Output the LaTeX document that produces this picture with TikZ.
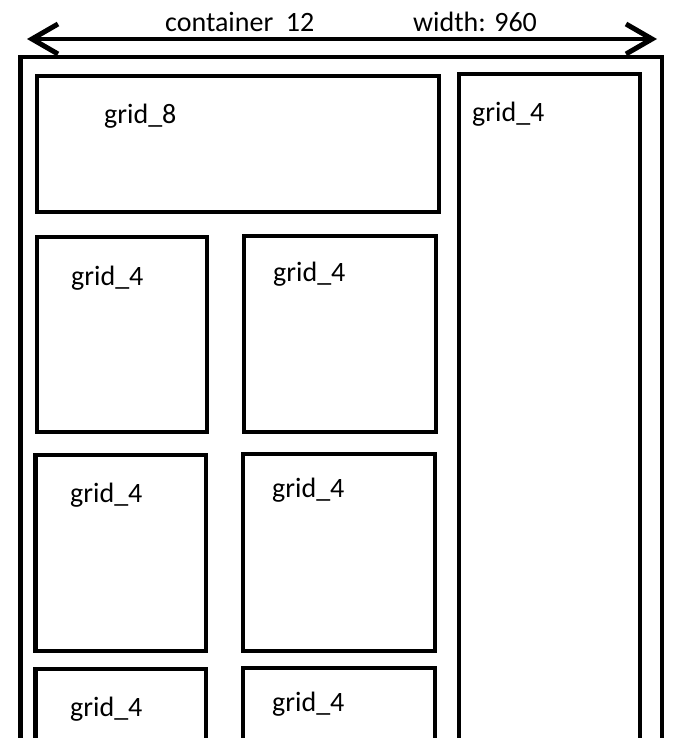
\documentclass[tikz,border=0pt]{standalone}
\usepackage{fontspec}
\setmainfont{Carlito}
\usetikzlibrary{arrows.meta}

\tikzset{
  box/.style={draw, line width=4.4pt, line join=miter},
  lbl/.style={anchor=base west, inner sep=0pt, font=\fontsize{28}{30}\selectfont},
  widtharrow/.style={line width=4.2pt, {Straight Barb[length=26pt,width=30pt,line width=5pt]}-{Straight Barb[length=26pt,width=30pt,line width=5pt]}}
}

\begin{document}
\begin{tikzpicture}[x=1pt,y=-1pt]
\useasboundingbox (0,0) rectangle (690,738);

% width arrow
\coordinate (wl) at (27,39);
\coordinate (wr) at (657,39);
\draw[widtharrow] (wl) -- (wr);
\node[lbl] (cname) at (165,32) {container\ \ 12};
\node[lbl] (cwidth) at (413,32) {width: 960};

% container 12
\draw[box] (20.5,738) -- (20.5,57) -- (662,57) -- (662,738);

% grid_8 and side column
\draw[box] (37,76) rectangle (439,212);
\node[lbl] (g8) at (104,124) {grid\_8};
\draw[box] (459,738) -- (459,74) -- (640,74) -- (640,738);
\node[lbl] (side) at (472,122) {grid\_4};

% rows of grid_4
\draw[box] (37,237) rectangle (207,432);
\node[lbl] (r1a) at (71,285) {grid\_4};
\draw[box] (244,236) rectangle (436,432);
\node[lbl] (r1b) at (273,281) {grid\_4};

\draw[box] (35.5,455) rectangle (206,651);
\node[lbl] (r2a) at (70,502) {grid\_4};
\draw[box] (243,454) rectangle (435,651);
\node[lbl] (r2b) at (272,497) {grid\_4};

\draw[box] (35.5,738) -- (35.5,669) -- (206,669) -- (206,738);
\node[lbl] (r3a) at (70,716) {grid\_4};
\draw[box] (243,738) -- (243,668) -- (435,668) -- (435,738);
\node[lbl] (r3b) at (272,711) {grid\_4};
\end{tikzpicture}
\end{document}
